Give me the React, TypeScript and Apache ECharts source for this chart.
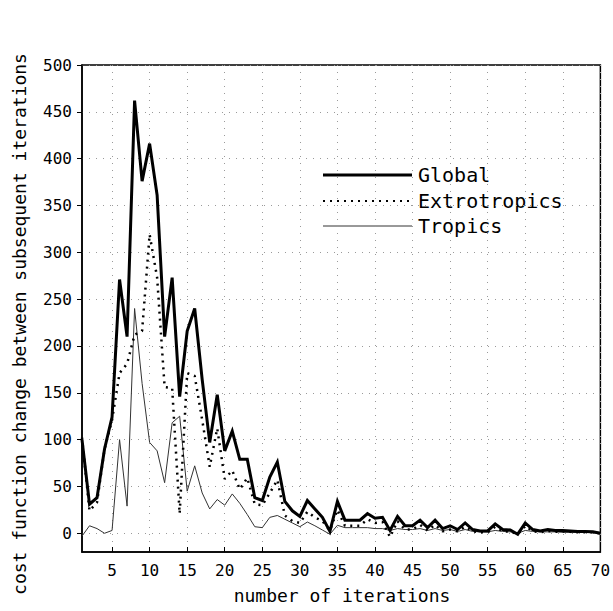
import React, { useEffect, useRef } from 'react';
import * as echarts from 'echarts';

const iterations = [
  1, 2, 3, 4, 5, 6, 7, 8, 9, 10, 11, 12, 13, 14, 15, 16, 17, 18, 19, 20,
  21, 22, 23, 24, 25, 26, 27, 28, 29, 30, 31, 32, 33, 34, 35, 36, 37, 38, 39, 40,
  41, 42, 43, 44, 45, 46, 47, 48, 49, 50, 51, 52, 53, 54, 55, 56, 57, 58, 59, 60,
  61, 62, 63, 64, 65, 66, 67, 68, 69, 70,
];

const globalValues = [
  100, 31, 38, 90, 124, 271, 210, 462, 376, 416, 361, 210, 273, 146, 216, 240, 164, 97, 148, 88,
  109, 79, 79, 38, 35, 60, 76, 34, 24, 18, 35, 26, 17, 2, 34, 14, 14, 14, 21, 16,
  17, 3, 18, 8, 8, 14, 6, 14, 5, 8, 4, 11, 4, 2.5, 2.5, 10, 4, 3.5, -1, 11,
  4, 2.5, 4, 3, 3, 2.5, 2, 2, 1.5, 0,
];

const extrotropicsValues = [
  102, 24, 33, 90, 121, 171, 181, 212, 216, 319, 273, 156, 155, 21, 171, 168, 121, 71, 112, 58,
  67, 47, 59, 31, 30, 43, 57, 19, 13, 11, 23, 17, 13, 3, 25, 8, 8, 8, 15, 11,
  12, -4, 13, 4, 4, 9, 3, 9, 2, 4, 2, 7, 2, 1, 1, 7, 2, 2, -1, 8,
  2, 1, 2.5, 1.5, 2, 1.5, 1, 1, 1, 0,
];

const tropicsValues = [
  -3, 8, 5, 0, 3, 100, 29, 240, 160, 97, 88, 54, 118, 125, 45, 72, 43, 26, 36, 30,
  42, 32, 20, 7, 6, 17, 19, 15, 11, 7, 12, 8, 3.5, -1, 8.5, 6, 6, 6, 6, 5,
  5, 3, 5, 4, 4, 5, 3, 5, 3, 4, 2, 4, 2, 1.5, 1.5, 3, 2, 1.5, 0, 3,
  2, 1.5, 1.5, 1.5, 1, 1, 1, 1, 0.5, 0,
];

const xTickValues = [5, 10, 15, 20, 25, 30, 35, 40, 45, 50, 55, 60, 65, 70];
const yTickValues = [0, 50, 100, 150, 200, 250, 300, 350, 400, 450, 500];

const seriesNames = ['Global', 'Extrotropics', 'Tropics'];
const xTitle = 'number of iterations';
const yTitle = 'cost function change between subsequent iterations';

const FONT = '"DejaVu Sans Mono", monospace';

function pairs(vals: number[]) {
  return iterations.map((it, i) => [it, vals[i]]);
}

export default function App() {
  const ref = useRef<HTMLDivElement>(null);
  useEffect(() => {
    if (!ref.current) return;
    const chart = echarts.init(ref.current, null, { renderer: 'svg' });
    const gridLine = { show: true, lineStyle: { color: '#9a9a9a', type: [1, 6], width: 1 } };
    const legendX1 = 323;
    const legendX2 = 412;
    const legendY = [175, 201, 226];
    chart.setOption({
      animation: false,
      backgroundColor: '#ffffff',
      grid: {
        left: 82,
        right: 11,
        top: 65,
        bottom: 59,
        show: true,
        borderColor: '#000',
        borderWidth: 1.5,
        backgroundColor: 'transparent',
      },
      xAxis: {
        type: 'value',
        min: 1,
        max: 70,
        axisLine: { show: true, onZero: false, lineStyle: { color: '#000', width: 1.5 } },
        axisTick: { show: true, inside: true, length: 5, customValues: xTickValues, lineStyle: { color: '#000', width: 1 } },
        axisLabel: { customValues: xTickValues, color: '#000', fontFamily: FONT, fontSize: 16, margin: 10 },
        splitLine: gridLine,
      },
      yAxis: {
        type: 'value',
        min: -20,
        max: 500,
        axisLine: { show: true, onZero: false, lineStyle: { color: '#000', width: 1.5 } },
        axisTick: { show: true, inside: false, length: 5, customValues: yTickValues, lineStyle: { color: '#000', width: 1 } },
        axisLabel: { customValues: yTickValues, color: '#000', fontFamily: FONT, fontSize: 16, margin: 10 },
        splitLine: gridLine,
      },
      series: [
        {
          name: seriesNames[2],
          type: 'line',
          data: pairs(tropicsValues),
          symbol: 'none',
          lineStyle: { color: '#333', width: 1 },
          z: 2,
        },
        {
          name: seriesNames[1],
          type: 'line',
          data: pairs(extrotropicsValues),
          symbol: 'none',
          lineStyle: { color: '#000', width: 2.5, type: [2, 5] },
          z: 3,
        },
        {
          name: seriesNames[0],
          type: 'line',
          data: pairs(globalValues),
          symbol: 'none',
          lineStyle: { color: '#000', width: 3, join: 'miter' },
          z: 4,
        },
      ],
      graphic: [
        { type: 'line', shape: { x1: legendX1, y1: legendY[0], x2: legendX2, y2: legendY[0] }, style: { stroke: '#000', lineWidth: 3 } },
        { type: 'line', shape: { x1: legendX1, y1: legendY[1], x2: legendX2, y2: legendY[1] }, style: { stroke: '#000', lineWidth: 2, lineDash: [2, 5] } },
        { type: 'line', shape: { x1: legendX1, y1: legendY[2], x2: legendX2, y2: legendY[2] }, style: { stroke: '#333', lineWidth: 1 } },
        ...seriesNames.map((n, i) => ({
          type: 'text',
          x: 418,
          y: legendY[i],
          style: { text: n, fill: '#000', font: `20px ${FONT}`, textAlign: 'left', textVerticalAlign: 'middle' },
        })),
        {
          type: 'text',
          x: 342,
          y: 595,
          style: { text: xTitle, fill: '#000', font: `18px ${FONT}`, textAlign: 'center', textVerticalAlign: 'middle' },
        },
        {
          type: 'text',
          x: 19,
          y: 324,
          rotation: Math.PI / 2,
          style: { text: yTitle, fill: '#000', font: `18px ${FONT}`, textAlign: 'center', textVerticalAlign: 'middle' },
        },
      ],
    });
    return () => chart.dispose();
  }, []);
  return <div ref={ref} style={{ position: 'fixed', left: 0, top: 0, width: 613, height: 611 }} />;
}
